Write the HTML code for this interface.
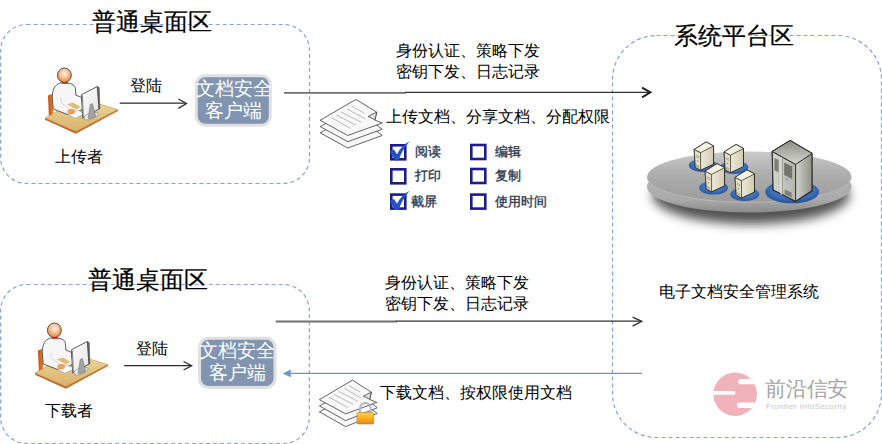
<!DOCTYPE html>
<html><head><meta charset="utf-8">
<style>
html,body{margin:0;padding:0;background:#fff;}
body{width:882px;height:444px;position:relative;overflow:hidden;font-family:"Liberation Sans",sans-serif;color:#000;}
.t{position:absolute;white-space:nowrap;line-height:1;}
.ttl{font-size:24px;-webkit-text-stroke:0.2px #000;}
.m{font-size:16px;}
.cb{font-size:13px;color:#2c3850;-webkit-text-stroke:0.35px #2c3850;}
.cl{position:absolute;font-size:18.5px;color:#fff;text-align:center;line-height:22px;white-space:nowrap;}
svg{position:absolute;left:0;top:0;overflow:visible;}
</style></head><body>

<!-- main line/box layer -->
<svg width="882" height="444" viewBox="0 0 882 444">
  <g fill="none" stroke="#82a3dc" stroke-width="1.2" stroke-dasharray="4 3">
    <rect x="0.7" y="24.5" width="308.8" height="159" rx="26" ry="26"/>
    <rect x="0.7" y="284.5" width="308.6" height="159" rx="26" ry="26"/>
    <rect x="612.5" y="35.5" width="269" height="402" rx="44" ry="44"/>
  </g>
  <!-- client boxes -->
  <rect x="196.3" y="75.7" width="74" height="49.5" rx="9" fill="#8195b1" stroke="#e0e0e0" stroke-width="3"/>
  <rect x="199.5" y="338.2" width="75.5" height="49.3" rx="9" fill="#8195b1" stroke="#e0e0e0" stroke-width="3"/>
  <!-- arrows -->
  <g stroke="#2a2a2a" stroke-width="1.25" fill="none">
    <path d="M119.7 103.2H186"/>
    <path d="M178.4 99L186.5 103.5L178.4 108.4"/>
    <path d="M124.2 365.7H191"/>
    <path d="M183.5 361.5L191.7 365.7L183.5 370"/>
  </g>
  <path d="M284 92.9H406" stroke="#6e6e6e" stroke-width="1.8" fill="none"/>
  <path d="M405 92.4H650" stroke="#333" stroke-width="1.4" fill="none"/>
  <path d="M642 87.6L650.4 92.3L642 97.3" stroke="#222" stroke-width="2" fill="none"/>
  <path d="M275.8 321.5H397" stroke="#6e6e6e" stroke-width="1.8" fill="none"/>
  <path d="M396 321.1H641" stroke="#333" stroke-width="1.4" fill="none"/>
  <g stroke="#333" stroke-width="1.4" fill="none">
    <path d="M632.6 317.2L641.7 321.3L632.6 326.2"/>
  </g>
  <path d="M290 373.4H642" stroke="#5b9bd5" stroke-width="1.2"/>
  <path d="M282.8 373.4L290.8 369.4L290.8 377.2Z" fill="#5b9bd5"/>
  <!-- checkboxes -->
  <g fill="none" stroke="#1c1c8c" stroke-width="2.6">
    <rect x="391.3" y="145.3" width="14" height="14"/>
    <rect x="391.3" y="169.3" width="14" height="14"/>
    <rect x="391.3" y="194.6" width="14" height="14"/>
    <rect x="471.3" y="145" width="14" height="14"/>
    <rect x="471.3" y="169" width="14" height="14"/>
    <rect x="471.3" y="194.6" width="14" height="14"/>
  </g>
  <g fill="#2452c4">
    <path d="M389.8 151.6L394 149.4L397 154.2C400 148 404.5 143.8 409.6 141.2C405 146.5 401 152.5 398.6 160.6L395.2 160.6Z"/>
    <path d="M389.8 201.1L394 198.9L397 203.7C400 197.5 404.5 193.3 409.6 190.7C405 196 401 202 398.6 210.1L395.2 210.1Z"/>
  </g>
</svg>

<!-- person icons -->
<svg style="left:36px;top:62px" width="90" height="72" viewBox="0 0 555 444">
  <defs>
    <radialGradient id="hd" cx="0.5" cy="0.38" r="0.62">
      <stop offset="0" stop-color="#fff3e6"/><stop offset="0.5" stop-color="#f6c196"/><stop offset="1" stop-color="#dc7a3a"/>
    </radialGradient>
    <linearGradient id="dk" x1="0" y1="0" x2="0" y2="1">
      <stop offset="0" stop-color="#eedc9c"/><stop offset="1" stop-color="#d8b06a"/>
    </linearGradient>
    <linearGradient id="ch" x1="0" y1="0" x2="1" y2="0">
      <stop offset="0" stop-color="#c04c10"/><stop offset="1" stop-color="#ee8434"/>
    </linearGradient>
    <linearGradient id="mn" x1="0" y1="0" x2="1" y2="1">
      <stop offset="0" stop-color="#ffffff"/><stop offset="1" stop-color="#e2e2e2"/>
    </linearGradient>
  </defs>
  <!-- chair back -->
  <path d="M74 206L102 196L106 330L80 346Z" fill="url(#ch)"/>
  <!-- desk thickness -->
  <path d="M56 345L246 429L504 293L504 302L246 442L56 356Z" fill="#b8662a"/>
  <path d="M246 429L504 293L504 301L246 440Z" fill="#cc7a34"/>
  <!-- desk top -->
  <path d="M56 345L272 224L504 293L246 429Z" fill="url(#dk)" stroke="#b07030" stroke-width="2.5" stroke-linejoin="round"/>
  <!-- body -->
  <path d="M150 129C132 136 120 146 114 156C106 170 101 192 100 212L106 290L196 324L246 312L290 290L280 218L246 204L243 162C240 150 236 145 232 143L212 132Z" fill="#f6f6f6" stroke="#3a3a3a" stroke-width="5" stroke-linejoin="round"/>
  <!-- lap patch -->
  <path d="M190 260L228 250L276 277L245 293Z" fill="#dcc078"/>
  <path d="M153 221L156 252L200 285" fill="none" stroke="#cfcfcf" stroke-width="5"/>
  <!-- keyboard -->
  <path d="M196 322L256 296L300 318L240 348Z" fill="#fafafa" stroke="#8a8a8a" stroke-width="3"/>
  <!-- hand -->
  <ellipse cx="217" cy="306" rx="22" ry="16" fill="#f0a062" stroke="#d08040" stroke-width="2"/>
  <!-- collar -->
  <path d="M158 124L198 124L192 136L164 136Z" fill="#d84820"/>
  <!-- head -->
  <ellipse cx="175" cy="82" rx="43" ry="45" fill="url(#hd)" stroke="#3a3a3a" stroke-width="5"/>
  <!-- monitor stand base -->
  <path d="M378 151L390 158L394 288L386 292Z" fill="#6e6e6e" stroke="#3a3a3a" stroke-width="3"/>
  <path d="M280 202L378 151L388 290L288 346Z" fill="url(#mn)" stroke="#3a3a3a" stroke-width="5" stroke-linejoin="round"/>
  <path d="M286 206L292 342" fill="none" stroke="#888" stroke-width="7"/>
  <path d="M296 340C310 318 360 300 384 318C380 340 340 362 300 356Z" fill="#e6e6e6" stroke="#707070" stroke-width="3"/>
  <path d="M334 262L348 256L368 336C352 346 336 350 322 348Z" fill="#a2a2a2" stroke="#5a5a5a" stroke-width="2.5" stroke-linejoin="round"/>
</svg>
<svg style="left:26px;top:317px" width="90" height="72" viewBox="0 0 555 444">
  <defs>
    <radialGradient id="hd2" cx="0.5" cy="0.38" r="0.62">
      <stop offset="0" stop-color="#fff3e6"/><stop offset="0.5" stop-color="#f6c196"/><stop offset="1" stop-color="#dc7a3a"/>
    </radialGradient>
    <linearGradient id="dk2" x1="0" y1="0" x2="0" y2="1">
      <stop offset="0" stop-color="#eedc9c"/><stop offset="1" stop-color="#d8b06a"/>
    </linearGradient>
    <linearGradient id="ch2" x1="0" y1="0" x2="1" y2="0">
      <stop offset="0" stop-color="#c04c10"/><stop offset="1" stop-color="#ee8434"/>
    </linearGradient>
    <linearGradient id="mn2" x1="0" y1="0" x2="1" y2="1">
      <stop offset="0" stop-color="#ffffff"/><stop offset="1" stop-color="#e2e2e2"/>
    </linearGradient>
  </defs>
  <!-- chair back -->
  <path d="M74 206L102 196L106 330L80 346Z" fill="url(#ch2)"/>
  <!-- desk thickness -->
  <path d="M56 345L246 429L504 293L504 302L246 442L56 356Z" fill="#b8662a"/>
  <path d="M246 429L504 293L504 301L246 440Z" fill="#cc7a34"/>
  <!-- desk top -->
  <path d="M56 345L272 224L504 293L246 429Z" fill="url(#dk2)" stroke="#b07030" stroke-width="2.5" stroke-linejoin="round"/>
  <!-- body -->
  <path d="M150 129C132 136 120 146 114 156C106 170 101 192 100 212L106 290L196 324L246 312L290 290L280 218L246 204L243 162C240 150 236 145 232 143L212 132Z" fill="#f6f6f6" stroke="#3a3a3a" stroke-width="5" stroke-linejoin="round"/>
  <!-- lap patch -->
  <path d="M190 260L228 250L276 277L245 293Z" fill="#dcc078"/>
  <path d="M153 221L156 252L200 285" fill="none" stroke="#cfcfcf" stroke-width="5"/>
  <!-- keyboard -->
  <path d="M196 322L256 296L300 318L240 348Z" fill="#fafafa" stroke="#8a8a8a" stroke-width="3"/>
  <!-- hand -->
  <ellipse cx="217" cy="306" rx="22" ry="16" fill="#f0a062" stroke="#d08040" stroke-width="2"/>
  <!-- collar -->
  <path d="M158 124L198 124L192 136L164 136Z" fill="#d84820"/>
  <!-- head -->
  <ellipse cx="175" cy="82" rx="43" ry="45" fill="url(#hd2)" stroke="#3a3a3a" stroke-width="5"/>
  <!-- monitor stand base -->
  <path d="M378 151L390 158L394 288L386 292Z" fill="#6e6e6e" stroke="#3a3a3a" stroke-width="3"/>
  <path d="M280 202L378 151L388 290L288 346Z" fill="url(#mn2)" stroke="#3a3a3a" stroke-width="5" stroke-linejoin="round"/>
  <path d="M286 206L292 342" fill="none" stroke="#888" stroke-width="7"/>
  <path d="M296 340C310 318 360 300 384 318C380 340 340 362 300 356Z" fill="#e6e6e6" stroke="#707070" stroke-width="3"/>
  <path d="M334 262L348 256L368 336C352 346 336 350 322 348Z" fill="#a2a2a2" stroke="#5a5a5a" stroke-width="2.5" stroke-linejoin="round"/>
</svg>

<!-- platform -->
<svg style="left:640px;top:130px" width="220" height="110" viewBox="0 0 882 441">
  <defs>
    <radialGradient id="psh" cx="0.5" cy="0.5" r="0.5">
      <stop offset="0" stop-color="#000" stop-opacity="0.45"/><stop offset="0.6" stop-color="#000" stop-opacity="0.2"/><stop offset="1" stop-color="#000" stop-opacity="0"/>
    </radialGradient>
    <linearGradient id="ptop" x1="0" y1="0" x2="0" y2="1">
      <stop offset="0" stop-color="#cacaca"/><stop offset="0.4" stop-color="#b0b0b0"/><stop offset="1" stop-color="#9a9a9a"/>
    </linearGradient>
    <linearGradient id="pedge" x1="0" y1="0" x2="0" y2="1">
      <stop offset="0" stop-color="#b8b8b8"/><stop offset="0.75" stop-color="#aaaaaa"/><stop offset="1" stop-color="#8a8a8a"/>
    </linearGradient>
    <radialGradient id="pad" cx="0.5" cy="0.4" r="0.6">
      <stop offset="0" stop-color="#5c8ed0"/><stop offset="0.7" stop-color="#3a6cb8"/><stop offset="1" stop-color="#24509a"/>
    </radialGradient>
    <linearGradient id="twf" x1="0" y1="0" x2="1" y2="0">
      <stop offset="0" stop-color="#fffbe8"/><stop offset="1" stop-color="#d8d2b4"/>
    </linearGradient>
    <linearGradient id="tws" x1="0" y1="0" x2="1" y2="0">
      <stop offset="0" stop-color="#cfc8a6"/><stop offset="1" stop-color="#a9a386"/>
    </linearGradient>
    <linearGradient id="rkf" x1="0" y1="0" x2="1" y2="0">
      <stop offset="0" stop-color="#d4d5cc"/><stop offset="1" stop-color="#b4b5ac"/>
    </linearGradient>
    <linearGradient id="rks" x1="0" y1="0" x2="1" y2="0">
      <stop offset="0.3" stop-color="#ededE6"/><stop offset="0.65" stop-color="#c8c9c0"/><stop offset="1" stop-color="#8e8f87"/>
    </linearGradient>
  </defs>
  <filter id="pblur" x="-20%" y="-50%" width="140%" height="200%"><feGaussianBlur stdDeviation="22"/></filter>
  <ellipse cx="445" cy="262" rx="395" ry="115" fill="#000" opacity="0.68" filter="url(#pblur)"/>
  <ellipse cx="438" cy="227" rx="410" ry="104" fill="url(#pedge)"/>
  <ellipse cx="438" cy="188" rx="410" ry="102" fill="url(#ptop)"/>
  <path d="M28 188A410 102 0 0 0 848 188" fill="none" stroke="#c4c4c4" stroke-width="3" opacity="0.8"/>
  <!-- pads -->
  <ellipse cx="252" cy="142" rx="56" ry="26" fill="url(#pad)"/>
  <ellipse cx="378" cy="150" rx="56" ry="26" fill="url(#pad)"/>
  <ellipse cx="295" cy="232" rx="58" ry="27" fill="url(#pad)"/>
  <ellipse cx="420" cy="258" rx="58" ry="27" fill="url(#pad)"/>
  <ellipse cx="610" cy="248" rx="108" ry="46" fill="url(#pad)"/>
  <!-- towers -->
  <defs>
    <linearGradient id="twr" x1="0" y1="0" x2="1" y2="0">
      <stop offset="0" stop-color="#fdfaee"/><stop offset="1" stop-color="#d2cbb0"/>
    </linearGradient>
    <linearGradient id="rtop" x1="0" y1="0" x2="0" y2="1">
      <stop offset="0" stop-color="#8c8d85"/><stop offset="1" stop-color="#d6d7ce"/>
    </linearGradient>
  </defs>
  <g id="tw" stroke="#2e2e2a" stroke-width="4" stroke-linejoin="round">
    <path d="M217 78L265 48L295 64L295 137L243 161L222 150Z" fill="url(#twr)"/>
    <path d="M217 78L243 91L243 161L222 150Z" fill="#e6e0c6" stroke-width="3"/>
    <path d="M217 78L265 48L295 64L243 91Z" fill="#f6f2e2" stroke-width="3"/>
    <path d="M224 100L238 107M224 106L238 113M224 138L238 145M224 143L238 150M224 148L238 155" stroke="#8a8670" stroke-width="2.5" fill="none"/>
    <circle cx="231" cy="124" r="3" fill="#5a9a6a" stroke="none"/>
  </g>
  <use href="#tw" transform="translate(120 10)"/>
  <use href="#tw" transform="translate(44 87)"/>
  <use href="#tw" transform="translate(164 112)"/>
  <!-- rack -->
  <g stroke="#2a2a28" stroke-width="5" stroke-linejoin="round">
    <path d="M530 86L602 42L690 94L690 244L624 286L534 240Z" fill="url(#rks)"/>
    <path d="M530 86L624 138L624 286L534 240Z" fill="url(#rkf)" stroke-width="4"/>
    <path d="M530 86L602 42L690 94L624 138Z" fill="url(#rtop)" stroke-width="4"/>
  </g>
  <path d="M566 108L566 260" stroke="#f4f4ee" stroke-width="5"/>
  <path d="M570 110L570 260" stroke="#55564f" stroke-width="2"/>
  <path d="M540 112L556 120L556 170L540 162Z" fill="#8a8c84"/>
  <path d="M540 116L540 160M545 118L545 163M550 121L550 166" stroke="#6a6c64" stroke-width="2"/>
  <path d="M578 130L610 146L610 196L578 180Z" fill="#7e8078"/>
  <path d="M582 134L582 182M588 137L588 185M594 140L594 188M600 143L600 191M606 146L606 194" stroke="#5e6058" stroke-width="2"/>
  <path d="M580 190L608 204L608 222L580 208Z" fill="#b8bcc8"/>
  <path d="M584 196L592 200" stroke="#4a9a70" stroke-width="4"/>
  <path d="M580 238L608 252L608 272L580 258Z" fill="#7e8078"/>
</svg>

<!-- docs -->
<svg style="left:314px;top:96px" width="70" height="60" viewBox="0 0 518 444">
  <g stroke="#404040" stroke-width="6" stroke-linejoin="round" fill="#f8f8f8">
    <path d="M45 272L300 135L505 292L250 385Z"/>
    <path d="M45 226L300 90L505 246L250 338Z"/>
    <path d="M45 180L310 25L465 120L450 178L505 200L250 292Z"/>
    <path d="M465 120C440 130 420 140 400 152C420 160 440 170 450 178Z" fill="#e0e0e0"/>
  </g>
  <g stroke="#9a9a9a" stroke-width="5" fill="none">
    <path d="M128 160L270 240M165 140L310 215M200 118L350 195M245 96L380 170M282 74L372 128"/>
  </g>
</svg>
<svg style="left:314px;top:374px" width="70" height="60" viewBox="0 0 518 444">
  <defs>
    <linearGradient id="lk" x1="0" y1="0" x2="0" y2="1">
      <stop offset="0" stop-color="#ffd34a"/><stop offset="0.5" stop-color="#f8b020"/><stop offset="1" stop-color="#e88a10"/>
    </linearGradient>
  </defs>
  <g stroke="#404040" stroke-width="6" stroke-linejoin="round" fill="#f8f8f8">
    <path d="M40 280L285 150L468 292L235 390Z"/>
    <path d="M40 236L285 105L468 250L235 345Z"/>
    <path d="M40 190L285 45L425 135L412 188L465 210L235 295Z"/>
    <path d="M425 135C400 145 385 155 365 165C385 172 400 180 412 188Z" fill="#e0e0e0"/>
  </g>
  <g stroke="#9a9a9a" stroke-width="5" fill="none">
    <path d="M112 172L250 248M148 150L290 225M182 128L325 203M225 106L350 178M258 85L340 132"/>
  </g>
  <path d="M340 292L340 260C340 200 420 200 420 260L420 292" fill="none" stroke="#9a98b0" stroke-width="14"/>
  <path d="M340 292L340 260C340 200 420 200 420 260L420 292" fill="none" stroke="#d8d6e6" stroke-width="6"/>
  <rect x="318" y="285" width="124" height="85" rx="8" fill="url(#lk)" stroke="#c87008" stroke-width="4"/>
</svg>

<!-- titles -->
<div class="t ttl" style="left:92px;top:10px;">普通桌面区</div>
<div class="t ttl" style="left:87.5px;top:268px;">普通桌面区</div>
<div class="t ttl" style="left:674px;top:24px;">系统平台区</div>

<div class="t m" style="left:130px;top:78px;">登陆</div>
<div class="t m" style="left:136px;top:341px;">登陆</div>
<div class="t m" style="left:54.5px;top:149px;">上传者</div>
<div class="t m" style="left:45px;top:403px;">下载者</div>

<div class="cl" style="left:195px;top:78px;width:77px;">文档安全<br>客户端</div>
<div class="cl" style="left:198px;top:340px;width:78px;">文档安全<br>客户端</div>

<div class="t m" style="left:396px;top:43px;">身份认证、策略下发</div><div class="t m" style="left:396px;top:64px;">密钥下发、日志记录</div>
<div class="t m" style="left:385px;top:275px;">身份认证、策略下发</div><div class="t m" style="left:385px;top:296px;">密钥下发、日志记录</div>
<div class="t m" style="left:386px;top:109px;">上传文档、分享文档、分配权限</div>
<div class="t m" style="left:380px;top:385px;">下载文档、按权限使用文档</div>
<div class="t m" style="left:658.5px;top:283.5px;">电子文档安全管理系统</div>

<div class="t cb" style="left:415px;top:145px;">阅读</div>
<div class="t cb" style="left:415px;top:169px;">打印</div>
<div class="t cb" style="left:411px;top:195px;">截屏</div>
<div class="t cb" style="left:495px;top:145px;">编辑</div>
<div class="t cb" style="left:495px;top:169px;">复制</div>
<div class="t cb" style="left:495px;top:195px;">使用时间</div>

<!-- logo -->
<svg style="left:705px;top:360px" width="150" height="60" viewBox="0 0 882 353">
  <defs><clipPath id="lc"><circle cx="177" cy="201" r="129"/></clipPath></defs>
  <g clip-path="url(#lc)">
    <circle cx="177" cy="201" r="129" fill="#f1b3bb"/>
    <rect x="195" y="112" width="200" height="30" rx="15" fill="#fff"/>
    <rect x="-40" y="183" width="218" height="22" rx="11" fill="#fff"/>
    <rect x="188" y="250" width="200" height="32" rx="16" fill="#fff"/>
  </g>
</svg>
<div class="t" style="left:765px;top:378.5px;font-size:20.5px;color:#a4a4a4;letter-spacing:-0.2px;">前沿信安</div>
<div class="t" style="left:766px;top:403px;font-size:7.6px;color:#c2c2c2;letter-spacing:0.6px;">Frontier InfoSecurity</div>

</body></html>
